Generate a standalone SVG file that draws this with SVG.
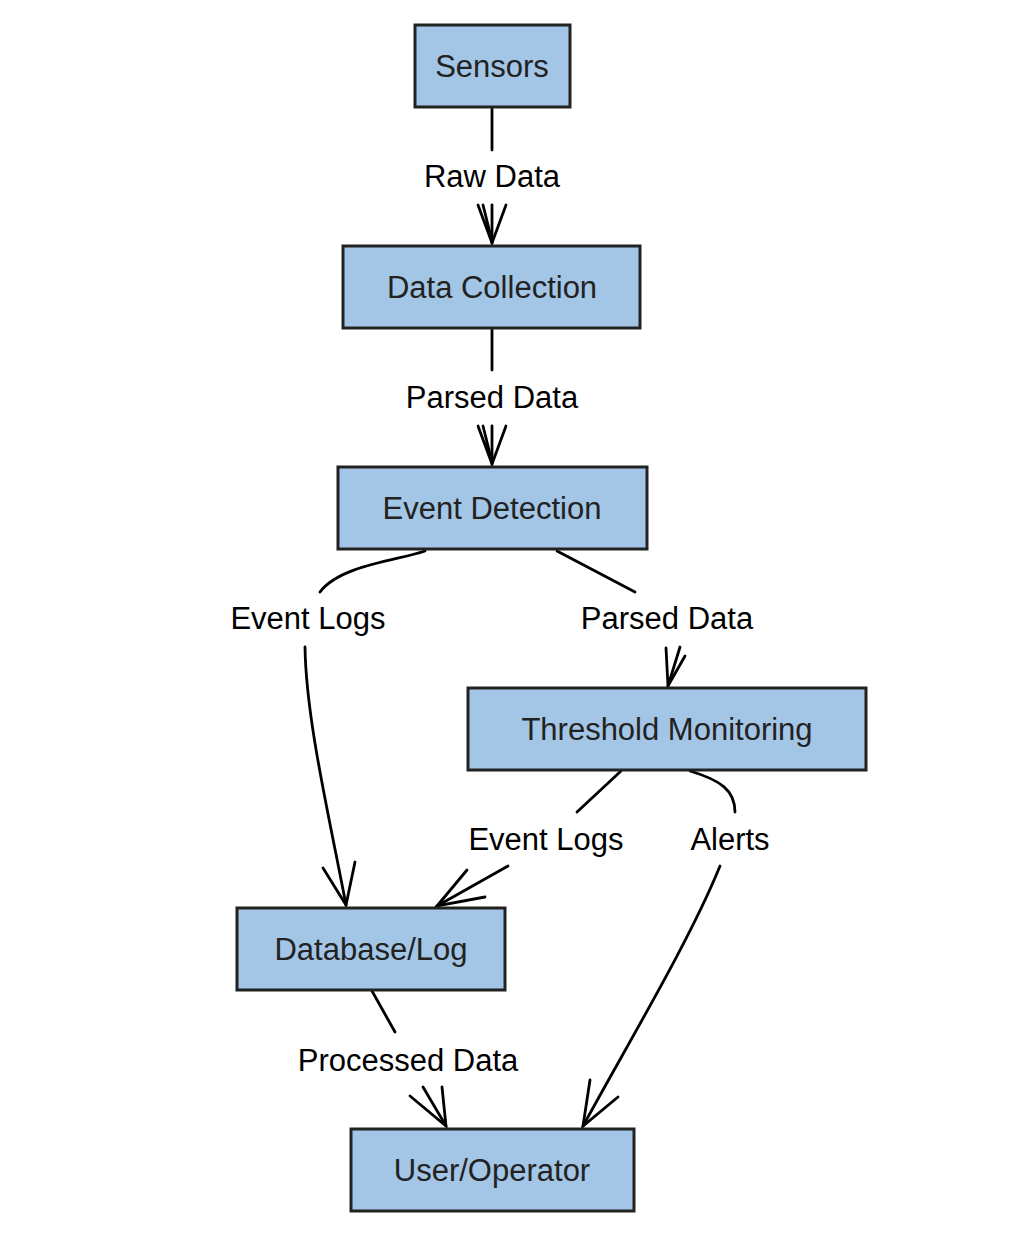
<svg xmlns="http://www.w3.org/2000/svg" width="1020" height="1260" viewBox="0 0 1020 1260">
<style>
.node rect{fill:#a3c6e6;stroke:#222;stroke-width:3}
.node text{font-family:"Liberation Sans",Arial,sans-serif;font-size:31px;fill:#222;text-anchor:middle}
.lbl{font-family:"Liberation Sans",Arial,sans-serif;font-size:31px;fill:#000;text-anchor:middle}
#edges path{fill:none;stroke:#000;stroke-width:2.8;stroke-linecap:round}
</style>
<rect width="1020" height="1260" fill="#fff"/>
<g id="edges">
<path d="M492,109 L492,150"/>
<path d="M492,205 L492,243"/>
<path d="M478,205 L492,243 L506,205 M483,205 L492,241"/>
<path d="M492,330 L492,370"/>
<path d="M492,426 L492,464"/>
<path d="M478,426 L492,464 L506,426 M483,426 L492,462"/>
<path d="M425,551 C400,560 340,565 320,592"/>
<path d="M305,647 C306,720 330,820 346,905"/>
<path d="M323,868 L346,905 L355,862"/>
<path d="M557,551 L635,592"/>
<path d="M680,647 L668,686"/>
<path d="M666,648 L668,686 L685,656"/>
<path d="M621,771 L577,812"/>
<path d="M508,866 L437,906"/>
<path d="M467,870 L437,906 L485,897"/>
<path d="M690,771 C720,780 735,790 735,812"/>
<path d="M720,866 C690,940 630,1040 583,1126"/>
<path d="M590,1080 L583,1126 L618,1097"/>
<path d="M372,991 L395,1032"/>
<path d="M423,1087 L446,1126"/>
<path d="M410,1096 L446,1126 L442,1087"/>
</g>
<text class="lbl" x="492" y="187">Raw Data</text>
<text class="lbl" x="492" y="408">Parsed Data</text>
<text class="lbl" x="308" y="629">Event Logs</text>
<text class="lbl" x="667" y="629">Parsed Data</text>
<text class="lbl" x="546" y="850">Event Logs</text>
<text class="lbl" x="730" y="850">Alerts</text>
<text class="lbl" x="408" y="1071">Processed Data</text>
<g id="sensors" class="node"><rect x="415" y="25" width="155" height="82"/><text x="492" y="77">Sensors</text></g>
<g id="data-collection" class="node"><rect x="343" y="246" width="297" height="82"/><text x="492" y="298">Data Collection</text></g>
<g id="event-detection" class="node"><rect x="338" y="467" width="309" height="82"/><text x="492" y="519">Event Detection</text></g>
<g id="threshold-monitoring" class="node"><rect x="468" y="688" width="398" height="82"/><text x="667" y="740">Threshold Monitoring</text></g>
<g id="database-log" class="node"><rect x="237" y="908" width="268" height="82"/><text x="371" y="960">Database/Log</text></g>
<g id="user-operator" class="node"><rect x="351" y="1129" width="283" height="82"/><text x="492" y="1181">User/Operator</text></g>
</svg>
